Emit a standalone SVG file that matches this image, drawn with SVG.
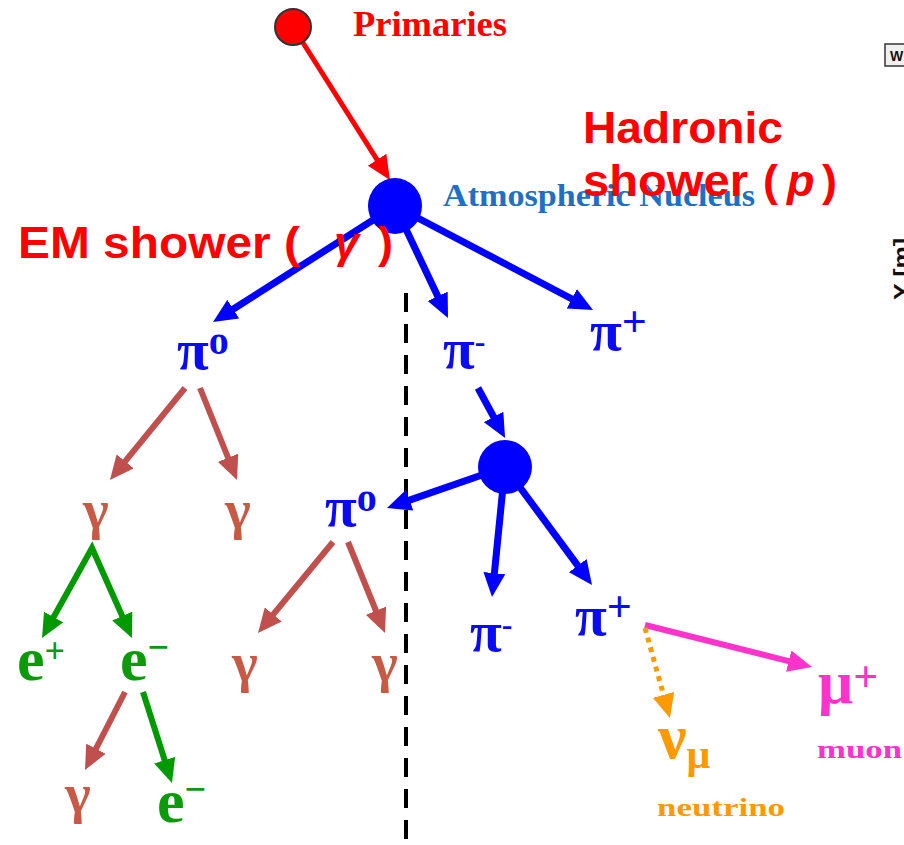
<svg xmlns="http://www.w3.org/2000/svg" width="904" height="845" viewBox="0 0 904 845">
<style>
.sym{font-family:"Liberation Serif","Times New Roman",serif;font-weight:bold}
.blue{fill:#0a0af5}
.brown{fill:#c65a45}
.green{fill:#0a9a0a}
.ann{font-family:"Liberation Sans","DejaVu Sans",sans-serif;font-weight:bold;fill:#ff0000}
.ln{fill:none}
</style>
<defs>
<marker id="ahBlue" markerUnits="userSpaceOnUse" viewBox="0 0 24 22" markerWidth="24" markerHeight="22" refX="10" refY="11" orient="auto"><path d="M0,0 L24,11 L0,22 z" fill="#0000ff"/></marker>
<marker id="ahRed" markerUnits="userSpaceOnUse" viewBox="0 0 24 22" markerWidth="24" markerHeight="22" refX="10" refY="11" orient="auto"><path d="M0,0 L24,11 L0,22 z" fill="#ff0000"/></marker>
<marker id="ahBrown" markerUnits="userSpaceOnUse" viewBox="0 0 24 22" markerWidth="24" markerHeight="22" refX="10" refY="11" orient="auto"><path d="M0,0 L24,11 L0,22 z" fill="#c0504d"/></marker>
<marker id="ahGreen" markerUnits="userSpaceOnUse" viewBox="0 0 24 22" markerWidth="24" markerHeight="22" refX="10" refY="11" orient="auto-start-reverse"><path d="M0,0 L24,11 L0,22 z" fill="#009900"/></marker>
<marker id="ahPink" markerUnits="userSpaceOnUse" viewBox="0 0 24 22" markerWidth="24" markerHeight="22" refX="10" refY="11" orient="auto"><path d="M0,0 L24,11 L0,22 z" fill="#ff33cc"/></marker>
<marker id="ahOrange" markerUnits="userSpaceOnUse" viewBox="0 0 24 22" markerWidth="24" markerHeight="22" refX="10" refY="11" orient="auto"><path d="M0,0 L24,11 L0,22 z" fill="#ff9900"/></marker>
</defs>
<rect width="904" height="845" fill="#ffffff"/>

<g id="connectors" class="ln">
<line x1="406" y1="293" x2="406" y2="845" stroke="#000" stroke-width="4" stroke-dasharray="19 12"/>
<line x1="293" y1="27" x2="382.4" y2="168.2" stroke="#ff0000" stroke-width="5" marker-end="url(#ahRed)"/>
<g stroke="#0000ff" stroke-width="7">
<line x1="395" y1="206" x2="224.8" y2="314.5" marker-end="url(#ahBlue)"/>
<line x1="395" y1="206" x2="442" y2="305.3" marker-end="url(#ahBlue)"/>
<line x1="395" y1="206" x2="580.6" y2="303.5" marker-end="url(#ahBlue)"/>
<line x1="478" y1="388" x2="498.4" y2="425.7" marker-end="url(#ahBlue)"/>
<line x1="505" y1="467" x2="400.2" y2="503.4" marker-end="url(#ahBlue)"/>
<line x1="505" y1="467" x2="493.4" y2="583.1" marker-end="url(#ahBlue)"/>
<line x1="505" y1="467" x2="583.7" y2="573.7" marker-end="url(#ahBlue)"/>
</g>
<g stroke="#c0504d" stroke-width="6">
<line x1="185" y1="388" x2="118.8" y2="469.1" marker-end="url(#ahBrown)"/>
<line x1="200" y1="388" x2="231.8" y2="467" marker-end="url(#ahBrown)"/>
<line x1="333" y1="542" x2="266.9" y2="622.2" marker-end="url(#ahBrown)"/>
<line x1="348" y1="542" x2="379.7" y2="620" marker-end="url(#ahBrown)"/>
<line x1="125" y1="692" x2="91.4" y2="757.6" marker-end="url(#ahBrown)"/>
</g>
<g stroke="#009900" stroke-width="6">
<path d="M48.8,625.8 L92,548 L126.3,625.2" marker-start="url(#ahGreen)" marker-end="url(#ahGreen)"/>
<line x1="143" y1="692" x2="167.7" y2="769.7" marker-end="url(#ahGreen)"/>
</g>
<line x1="645" y1="625" x2="798.4" y2="663.6" stroke="#ff33cc" stroke-width="6" marker-end="url(#ahPink)"/>
<line x1="645" y1="628" x2="666.2" y2="704.5" stroke="#ff9900" stroke-width="5" stroke-dasharray="5 5" marker-end="url(#ahOrange)"/>
</g>

<g id="primaries">
<circle cx="293" cy="27" r="18" fill="#ff0000" stroke="#333" stroke-width="2"/>
<text x="353" y="36" class="sym" font-size="35" fill="#ff0000" textLength="154" lengthAdjust="spacingAndGlyphs">Primaries</text>
</g>
<g id="nucleus">
<ellipse cx="395" cy="206" rx="27" ry="28" fill="#0000ff"/>
<text x="443" y="206" font-family="Liberation Serif, serif" font-weight="bold" font-size="31" fill="#1f70c4" textLength="312" lengthAdjust="spacingAndGlyphs">Atmospheric Nucleus</text>
</g>
<g id="pi0-a"><text x="177" y="369" class="sym blue" font-size="58">π<tspan font-size="40" dy="-15">o</tspan></text></g>
<g id="pim-a"><text x="443" y="368" class="sym blue" font-size="58">π<tspan font-size="32" dy="-16">-</tspan></text></g>
<g id="pip-a"><text x="590" y="350" class="sym blue" font-size="58">π<tspan font-size="44" dy="-14">+</tspan></text></g>
<g id="gamma-a"><text x="83" y="528" class="sym brown" font-size="55">γ</text></g>
<g id="gamma-b"><text x="225" y="528" class="sym brown" font-size="55">γ</text></g>
<g id="nucleus2"><circle cx="505" cy="467" r="27" fill="#0000ff"/></g>
<g id="pi0-b"><text x="325" y="526" class="sym blue" font-size="58">π<tspan font-size="40" dy="-15">o</tspan></text></g>
<g id="pim-b"><text x="470" y="651" class="sym blue" font-size="58">π<tspan font-size="32" dy="-16">-</tspan></text></g>
<g id="pip-b"><text x="575" y="635" class="sym blue" font-size="58">π<tspan font-size="44" dy="-14">+</tspan></text></g>
<g id="eplus"><text x="17" y="680" class="sym green" font-size="62">e<tspan font-size="36" dy="-17">+</tspan></text></g>
<g id="eminus"><text x="120" y="680" class="sym green" font-size="62">e<tspan font-size="38" dy="-20">−</tspan></text></g>
<g id="gamma-c"><text x="232" y="681" class="sym brown" font-size="55">γ</text></g>
<g id="gamma-d"><text x="372" y="681" class="sym brown" font-size="55">γ</text></g>
<g id="gamma-e"><text x="65" y="812" class="sym brown" font-size="55">γ</text></g>
<g id="eminus-b"><text x="157" y="822" class="sym green" font-size="62">e<tspan font-size="38" dy="-20">−</tspan></text></g>
<g id="numu"><text x="658" y="758" class="sym" font-size="64" fill="#ff9900">ν<tspan font-size="42" dy="10">μ</tspan></text>
<text x="657" y="816" class="sym" font-size="26" fill="#ff9900" textLength="128" lengthAdjust="spacingAndGlyphs">neutrino</text></g>
<g id="muplus"><text x="818" y="703" class="sym" font-size="62" fill="#ff33cc">μ<tspan font-size="44" dy="-12">+</tspan></text>
<text x="817" y="758" class="sym" font-size="26" fill="#ff33cc" textLength="85" lengthAdjust="spacingAndGlyphs">muon</text></g>

<g id="labels">
<text x="583" y="143" class="ann" font-size="45" textLength="200" lengthAdjust="spacingAndGlyphs">Hadronic</text>
<text class="ann" font-size="45" y="196"><tspan x="583" textLength="165" lengthAdjust="spacingAndGlyphs">shower</tspan><tspan x="763">(</tspan><tspan x="787" font-style="italic">p</tspan><tspan x="822">)</tspan></text>
<text class="ann" font-size="45" y="258"><tspan x="18" textLength="282" lengthAdjust="spacingAndGlyphs">EM shower (</tspan><tspan x="334" font-style="italic">γ</tspan><tspan x="378">)</tspan></text>
</g>

<g id="edge">
<rect x="885" y="44" width="24" height="22" fill="#f0f0f0" stroke="#333" stroke-width="1.5"/>
<text x="890" y="61" font-family="Liberation Sans, sans-serif" font-size="14" font-weight="bold" fill="#111">W</text>
<text transform="translate(909,300) rotate(-90)" font-family="Liberation Sans, sans-serif" font-size="22" font-weight="bold" fill="#111" textLength="62" lengthAdjust="spacingAndGlyphs">Y [m]</text>
</g>
</svg>
